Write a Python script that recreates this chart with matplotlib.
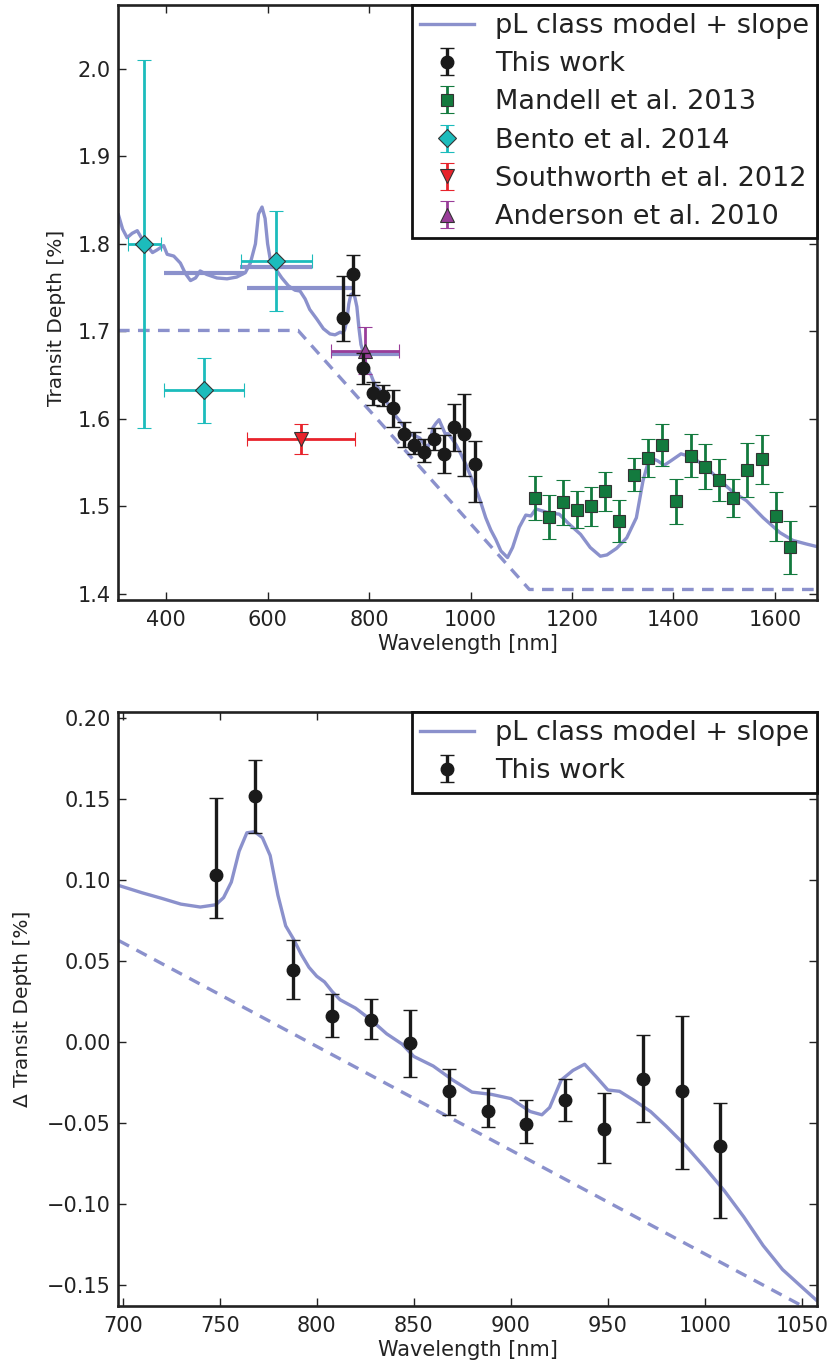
import numpy as np
import matplotlib.pyplot as plt

# pL class model + slope, full range (wavelength [nm], transit depth [%])
model_wl = [306, 314, 323, 333, 343, 353, 362, 373, 382, 395, 402, 415, 428, 438, 448,
            458, 467, 480, 500, 520, 539, 556, 566, 576, 582, 589, 595, 600, 605, 615,
            628, 641, 654, 664, 674, 683, 697, 710, 723, 733, 743, 748, 752, 756, 760,
            764, 768, 772, 776, 780, 784, 788, 792, 796, 800, 804, 808, 812, 820, 828,
            836, 844, 850, 860, 870, 880, 890, 900, 910, 916, 920, 926, 932, 938, 944,
            950, 956, 964, 972, 980, 990, 1000, 1010, 1020, 1030, 1040, 1050, 1060, 1073, 1083,
            1096, 1109, 1119, 1129, 1152, 1175, 1194, 1217, 1236, 1256, 1269, 1288, 1308, 1327, 1340,
            1353, 1369, 1382, 1395, 1415, 1438, 1464, 1491, 1518, 1544, 1577, 1610, 1636, 1662, 1683]
model_depth = [1.833, 1.817, 1.807, 1.812, 1.815, 1.805, 1.798, 1.790, 1.793, 1.798, 1.788, 1.786, 1.778, 1.766, 1.758,
               1.761, 1.769, 1.765, 1.761, 1.760, 1.762, 1.767, 1.778, 1.800, 1.834, 1.842, 1.829, 1.800, 1.783, 1.772,
               1.761, 1.752, 1.747, 1.746, 1.737, 1.725, 1.714, 1.703, 1.697, 1.696, 1.699, 1.698, 1.702, 1.712, 1.731,
               1.742, 1.743, 1.739, 1.728, 1.704, 1.685, 1.677, 1.667, 1.659, 1.654, 1.650, 1.644, 1.639, 1.634, 1.627,
               1.618, 1.612, 1.605, 1.598, 1.590, 1.582, 1.581, 1.578, 1.570, 1.568, 1.573, 1.590, 1.595, 1.599, 1.591,
               1.583, 1.583, 1.577, 1.570, 1.561, 1.549, 1.535, 1.521, 1.505, 1.487, 1.473, 1.462, 1.449, 1.4415, 1.453,
               1.476, 1.490, 1.489, 1.497, 1.493, 1.491, 1.480, 1.468, 1.453, 1.443, 1.4445, 1.452, 1.464, 1.487, 1.529,
               1.556, 1.552, 1.547, 1.552, 1.560, 1.556, 1.545, 1.530, 1.516, 1.5065, 1.487, 1.470, 1.461, 1.457, 1.454]

# slope only (dashed)
slope_wl = [305, 660, 1116, 1683]
slope_depth = [1.701, 1.701, 1.405, 1.405]

# model binned to the literature bandpasses
bin_lo = [395, 546, 559, 725]
bin_hi = [553, 687, 772, 859]
bin_depth = [1.767, 1.773, 1.750, 1.674]

# This work
work_wl = [748, 768, 788, 808, 828, 848, 868, 888, 908, 928, 948, 968, 988, 1008]
work_depth = [1.7157, 1.765, 1.6576, 1.6292, 1.6265, 1.6125, 1.5825, 1.5706, 1.5625,
              1.5771, 1.5595, 1.5903, 1.5825, 1.5487]
work_delta = [0.1027, 0.152, 0.0446, 0.0162, 0.0135, -0.0005, -0.0305, -0.0424, -0.0505,
              -0.0359, -0.0535, -0.0227, -0.0305, -0.0643]
work_err_lo = [0.0262, 0.023, 0.0181, 0.013, 0.0116, 0.0214, 0.0144, 0.0103, 0.0119,
               0.0127, 0.0211, 0.0265, 0.0481, 0.0441]
work_err_hi = [0.0478, 0.0218, 0.0181, 0.0133, 0.0127, 0.0202, 0.014, 0.0138, 0.0148,
               0.0129, 0.0221, 0.027, 0.0462, 0.0265]

# Mandell et al. 2013
mandell_wl = [1127, 1155, 1183, 1209, 1238, 1266, 1293, 1322, 1350, 1378, 1406, 1434,
              1462, 1489, 1518, 1546, 1574, 1602, 1630]
mandell_depth = [1.5096, 1.4874, 1.5046, 1.496, 1.500, 1.517, 1.4828, 1.5363, 1.5554, 1.5696,
                 1.5057, 1.558, 1.5455, 1.5306, 1.5096, 1.5417, 1.554, 1.4885, 1.453]
mandell_err = [0.025, 0.025, 0.026, 0.021, 0.022, 0.022, 0.024, 0.019, 0.022, 0.024,
               0.026, 0.025, 0.026, 0.024, 0.022, 0.031, 0.028, 0.028, 0.030]

# Bento et al. 2014
bento_wl = [357, 474, 617]
bento_xerr = [33, 79, 70]
bento_depth = [1.800, 1.6328, 1.7807]
bento_err = [0.21, 0.037, 0.057]

# Southworth et al. 2012
south_wl = [666]
south_xerr = [107]
south_depth = [1.577]
south_err = [0.0175]

# Anderson et al. 2010
anders_wl = [792]
anders_xerr = [67]
anders_depth = [1.678]
anders_err = [0.027]

# zoom on the This work range, relative depths
zoom_wl = [698, 710, 720, 730, 740, 748, 752, 756, 760, 764, 768, 772, 776, 780, 784,
           788, 792, 796, 800, 804, 808, 812, 820, 828, 836, 844, 850, 860, 870, 880,
           890, 900, 910, 916, 920, 926, 932, 938, 944, 950, 956, 964, 972, 980, 990,
           1000, 1010, 1020, 1030, 1040, 1050, 1058]
zoom_delta = [0.0965, 0.092, 0.0886, 0.085, 0.0832, 0.0846, 0.089, 0.0986, 0.1176, 0.129,
              0.1297, 0.126, 0.115, 0.0905, 0.0716, 0.0635, 0.054, 0.046, 0.0405, 0.037,
              0.031, 0.026, 0.0208, 0.0135, 0.005, -0.0014, -0.009, -0.0149, -0.0235, -0.031,
              -0.0324, -0.035, -0.043, -0.045, -0.0405, -0.0235, -0.0176, -0.0138, -0.0216, -0.0297,
              -0.0305, -0.0365, -0.043, -0.052, -0.064, -0.0776, -0.0919, -0.108, -0.1257, -0.1405,
              -0.1514, -0.160]
zoom_slope_wl = [698, 1058]
zoom_slope_delta = [0.0625, -0.168]

model_col = '#8b91cc'
text_col = '#222222'
dash = (0, (3.5, 2.5))

plt.rcParams['font.family'] = 'DejaVu Sans'
plt.rcParams['text.color'] = text_col
plt.rcParams['axes.labelcolor'] = text_col
plt.rcParams['xtick.color'] = text_col
plt.rcParams['ytick.color'] = text_col

fig = plt.figure(figsize=(8.32, 13.67), dpi=100)
ax1 = fig.add_axes([0.1418, 0.5611, 0.8401, 0.4353])
ax2 = fig.add_axes([0.1418, 0.0446, 0.8401, 0.4345])

# marker / colour settings per data set
work_kw = dict(fmt='o', color='#1a1a1a', ms=9, elinewidth=2.4, capsize=5, capthick=1)
mandell_kw = dict(fmt='s', color='#137a3e', mec='#333333', mew=0.8, ms=9,
                  elinewidth=2, capsize=5, capthick=1)
bento_kw = dict(fmt='D', color='#1cbcbc', mec='#333333', mew=0.8, ms=9,
                elinewidth=2, capsize=5, capthick=1)
south_kw = dict(fmt='v', color='#e8232b', mec='#333333', mew=0.8, ms=10,
                elinewidth=2, capsize=5, capthick=1)
anders_kw = dict(fmt='^', color='#993d99', mec='#333333', mew=0.8, ms=10,
                 elinewidth=2, capsize=5, capthick=1)


def style_axes(ax):
    for s in ax.spines.values():
        s.set_linewidth(1.9)
        s.set_color('#222222')
    ax.tick_params(direction='in', top=True, right=True, length=6, width=1,
                   labelsize=15)
    ax.tick_params(axis='y', pad=5)
    ax.tick_params(axis='x', pad=7)


def legend_proxy(ax, kw):
    # invisible point with a y error only, so the legend shows a vertical bar
    return ax.errorbar([np.nan], [np.nan], yerr=[1.0], **kw)


def add_legend(ax, handles, labels):
    leg = ax.legend(handles, labels, loc='upper right', borderaxespad=0,
                    fancybox=False, framealpha=1, edgecolor='#111111',
                    fontsize=19.5, labelspacing=0.45, handletextpad=0.75,
                    borderpad=0.3, handlelength=2.0)
    leg.get_frame().set_linewidth(2)
    return leg


# top panel
line_model, = ax1.plot(model_wl, model_depth, color=model_col, lw=2.4, zorder=2)
ax1.plot(slope_wl, slope_depth, color=model_col, lw=2.4, ls=dash, zorder=2)
ax1.hlines(bin_depth, bin_lo, bin_hi, color=model_col, lw=3, zorder=2)

ax1.errorbar(work_wl, work_depth, yerr=[work_err_lo, work_err_hi], zorder=6, **work_kw)
ax1.errorbar(mandell_wl, mandell_depth, yerr=mandell_err, zorder=5, **mandell_kw)
ax1.errorbar(bento_wl, bento_depth, xerr=bento_xerr, yerr=bento_err, zorder=5, **bento_kw)
ax1.errorbar(south_wl, south_depth, xerr=south_xerr, yerr=south_err, zorder=5, **south_kw)
ax1.errorbar(anders_wl, anders_depth, xerr=anders_xerr, yerr=anders_err, zorder=5, **anders_kw)

ax1.set_xlim(305, 1683)
ax1.set_ylim(1.393, 2.073)
ax1.set_xticks([400, 600, 800, 1000, 1200, 1400, 1600])
ax1.set_yticks([1.4, 1.5, 1.6, 1.7, 1.8, 1.9, 2.0])
style_axes(ax1)
ax1.set_xlabel('Wavelength [nm]', fontsize=15, labelpad=3)
ax1.set_ylabel('Transit Depth [%]', fontsize=14.5)
ax1.yaxis.set_label_coords(-0.074, 0.474)
add_legend(ax1, [line_model] + [legend_proxy(ax1, kw) for kw in
                                (work_kw, mandell_kw, bento_kw, south_kw, anders_kw)],
           ['pL class model + slope', 'This work', 'Mandell et al. 2013',
            'Bento et al. 2014', 'Southworth et al. 2012', 'Anderson et al. 2010'])

# bottom panel
line_zoom, = ax2.plot(zoom_wl, zoom_delta, color=model_col, lw=2.4, zorder=2)
ax2.plot(zoom_slope_wl, zoom_slope_delta, color=model_col, lw=2.4, ls=dash, zorder=2)
eb_work2 = ax2.errorbar(work_wl, work_delta, yerr=[work_err_lo, work_err_hi], zorder=6,
                        **work_kw)

ax2.set_xlim(697.6, 1057.7)
ax2.set_ylim(-0.163, 0.2035)
ax2.set_xticks(np.arange(700, 1051, 50))
ax2.set_yticks([-0.15, -0.10, -0.05, 0.0, 0.05, 0.10, 0.15, 0.20])
style_axes(ax2)
ax2.set_xlabel('Wavelength [nm]', fontsize=15, labelpad=3)
ax2.set_ylabel('\u0394 Transit Depth [%]', fontsize=14.5)
ax2.yaxis.set_label_coords(-0.123, 0.5)
add_legend(ax2, [line_zoom, eb_work2], ['pL class model + slope', 'This work'])

fig.savefig('out.png', dpi=100)
